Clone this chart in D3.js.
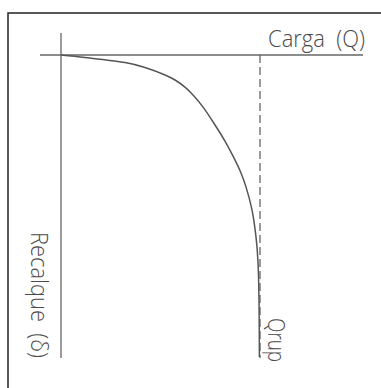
<!DOCTYPE html>
<html>
<head>
<meta charset="utf-8">
<script src="https://cdn.jsdelivr.net/npm/d3@7"></script>
<style>
  body { margin: 0; background: #fff; }
  text { font-family: 'Open Sans', sans-serif; font-weight: 300; fill: #4a4a4a; white-space: pre; }
</style>
</head>
<body>
<div class="chart"></div>
<script>
const width = 381;
const height = 388;

// carga (% of Qrup) and recalque (% of max settlement)
const cargas    = [0, 12.1, 32.2, 42.2, 52.3, 57.3, 62.3, 66.8, 71.4, 77.4, 82.4, 86.4, 90.5, 93.0, 96.0, 98.0, 99.0, 99.5, 99.7];
const recalques = [0, 0.8, 2.5, 4.1, 6.6, 8.25, 10.6, 13.5, 17.2, 23.1, 28.4, 33.3, 39.0, 43.6, 51.2, 60.1, 68.3, 80.9, 99.7];
const qrup = 100;
const recalqueMax = 100;

const labels = { carga: 'Carga  (Q)', recalque: 'Recalque  (δ)', rup: 'Qrup' };

const x = d3.scaleLinear().domain([0, qrup]).range([61, 260]);
const y = d3.scaleLinear().domain([0, recalqueMax]).range([55, 358]);

const svg = d3.select('.chart')
    .append('svg')
    .attr('width', width)
    .attr('height', height);

// frame
svg.append('path')
    .attr('d', `M8,${height} L8,13 L${width},13`)
    .attr('fill', 'none')
    .attr('stroke', '#222')
    .attr('stroke-width', 1.5);

// axes
svg.append('line')
    .attr('x1', x(0) - 21).attr('x2', 363)
    .attr('y1', y(0)).attr('y2', y(0))
    .attr('stroke', '#666')
    .attr('stroke-width', 1.3);

svg.append('line')
    .attr('x1', x(0)).attr('x2', x(0))
    .attr('y1', y(0) - 22).attr('y2', y(recalqueMax))
    .attr('stroke', '#666')
    .attr('stroke-width', 1.3);

// Qrup asymptote
svg.append('line')
    .attr('x1', x(qrup)).attr('x2', x(qrup))
    .attr('y1', y(0)).attr('y2', y(recalqueMax))
    .attr('stroke', '#666')
    .attr('stroke-width', 1.3)
    .attr('stroke-dasharray', '8,4');

const line = d3.line()
    .x(d => x(d[0]))
    .y(d => y(d[1]))
    .curve(d3.curveCatmullRom.alpha(0.5));

svg.append('path')
    .datum(cargas.map((c, i) => [c, recalques[i]]))
    .attr('d', line)
    .attr('fill', 'none')
    .attr('stroke', '#555')
    .attr('stroke-width', 1.5);

// labels
svg.append('text')
    .attr('x', 268)
    .attr('y', 47)
    .style('font-size', '23px')
    .attr('textLength', 97)
    .attr('lengthAdjust', 'spacingAndGlyphs')
    .text(labels.carga);

svg.append('text')
    .attr('transform', 'translate(31,232) rotate(90)')
    .style('font-size', '23px')
    .attr('textLength', 126)
    .attr('lengthAdjust', 'spacingAndGlyphs')
    .text(labels.recalque);

svg.append('text')
    .attr('transform', 'translate(268,318) rotate(90)')
    .style('font-size', '23px')
    .attr('textLength', 44)
    .attr('lengthAdjust', 'spacingAndGlyphs')
    .text(labels.rup);
</script>
</body>
</html>
